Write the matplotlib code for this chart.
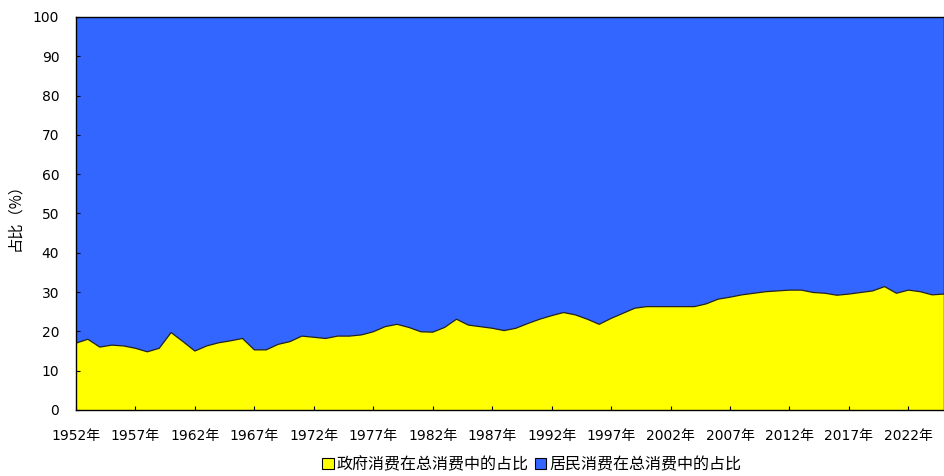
import numpy as np
import matplotlib
matplotlib.use('Agg')
import matplotlib.pyplot as plt
from matplotlib.patches import Patch

plt.rcParams['font.family'] = ['DejaVu Sans', 'Noto Sans CJK SC']

# share of government consumption in total consumption (%), 1952-2025
years = list(range(1952, 2026))
gov_share = [17.0, 18.0, 16.0, 16.5, 16.3, 15.7, 14.8, 15.7, 19.7, 17.4,
             15.0, 16.3, 17.1, 17.6, 18.2, 15.3, 15.3, 16.7, 17.4, 18.8,
             18.5, 18.2, 18.8, 18.8, 19.1, 19.9, 21.2, 21.8, 21.0, 19.9,
             19.8, 21.0, 23.1, 21.6, 21.2, 20.8, 20.2, 20.8, 22.0, 23.1,
             24.0, 24.8, 24.2, 23.1, 21.8, 23.3, 24.6, 25.9, 26.3, 26.3,
             26.3, 26.3, 26.3, 27.0, 28.2, 28.7, 29.3, 29.7, 30.1, 30.3,
             30.5, 30.5, 29.9, 29.7, 29.2, 29.5, 29.9, 30.3, 31.4, 29.7,
             30.5, 30.1, 29.3, 29.5]
household_share = [100 - v for v in gov_share]
series_names = ['政府消费在总消费中的占比', '居民消费在总消费中的占比']
tick_years = list(range(1952, 2026, 5))
tick_labels = [f'{y}年' for y in tick_years]

yellow = '#FFFF00'
blue = '#3366FF'

fig = plt.figure(figsize=(9.45, 4.76), dpi=100)
ax = fig.add_axes([0.0804, 0.1387, 0.9186, 0.8256])

x = np.array(years)
ax.stackplot(x, gov_share, household_share, colors=[yellow, blue], lw=0)
ax.plot(x, gov_share, color='#222222', lw=0.9)

ax.set_xlim(years[0], years[-1])
ax.set_ylim(0, 100)
ax.set_yticks(range(0, 101, 10))
ax.set_xticks(tick_years)
ax.set_xticklabels(tick_labels)
ax.tick_params(direction='in', length=3, labelsize=10, colors='black')
ax.tick_params(axis='x', pad=14)
ax.tick_params(axis='y', pad=12)
for sp in ax.spines.values():
    sp.set_linewidth(1.0)
    sp.set_color('black')

ax.set_ylabel('占比（%）', fontsize=11, labelpad=7,
              family=['Noto Sans CJK SC', 'DejaVu Sans'])

handles = [Patch(facecolor=yellow, edgecolor='black', lw=0.8),
           Patch(facecolor=blue, edgecolor='black', lw=0.8)]
fig.legend(handles, series_names, loc='center', bbox_to_anchor=(0.563, 0.024),
           ncol=2, frameon=False, handlelength=0.7, handleheight=0.7,
           handletextpad=0.2, columnspacing=0.4,
           prop={'family': ['Noto Sans CJK SC', 'DejaVu Sans'], 'size': 11.5})

fig.savefig('out.png', dpi=100)
